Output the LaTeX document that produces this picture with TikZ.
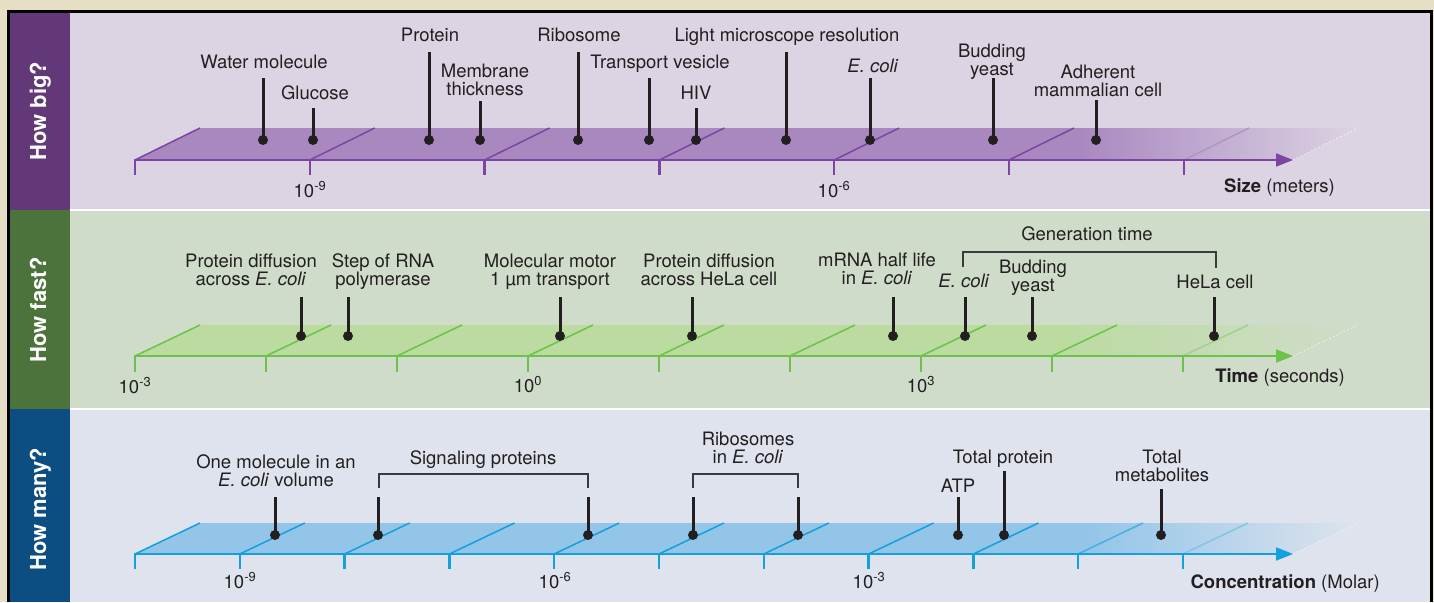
\documentclass[tikz,border=0pt]{standalone}
\usepackage{fontspec}
\setmainfont{TeX Gyre Heros}
\usetikzlibrary{arrows.meta}
\definecolor{outerbg}{HTML}{E6DFC5}
\definecolor{pinc}{HTML}{231F20}
\definecolor{pbg}{HTML}{DCD4E2}
\definecolor{pfill}{HTML}{A988C0}
\definecolor{pline}{HTML}{7B46A1}
\definecolor{pside}{HTML}{633878}
\definecolor{gbg}{HTML}{D0DCCA}
\definecolor{gfill}{HTML}{BBDBA0}
\definecolor{gline}{HTML}{6CC24A}
\definecolor{gside}{HTML}{4B733B}
\definecolor{bbg}{HTML}{DEE3ED}
\definecolor{bfill}{HTML}{93C5E9}
\definecolor{bline}{HTML}{14A0DC}
\definecolor{bside}{HTML}{0D4E82}
\definecolor{brk}{HTML}{3A3A3A}
\newcommand\pinat[4]{%
  \coordinate (#1t) at (#2,#3);
  \node[pindot] (#1) at (#2,#4) {};
  \draw[pinline] (#1t) -- (#1.center);
}
\tikzset{
  lbl/.style={inner sep=0pt, anchor=base, align=center, text=pinc, font=\fontsize{18.5}{17.8}\selectfont},
  axlbl/.style={inner sep=0pt, anchor=base east, text=pinc, font=\fontsize{18.5}{17.8}\selectfont},
  pinline/.style={line width=3pt, draw=pinc},
  pindot/.style={circle, fill=pinc, inner sep=0pt, minimum size=10pt},
  sidelbl/.style={rotate=90, anchor=base, inner sep=0pt, text=white, font=\bfseries\fontsize{22}{22}\selectfont},
  axisline/.style={line width=2pt, -{Triangle[length=17pt,width=13pt]}},
  tickline/.style={line width=2.5pt},
  slantline/.style={line width=1.5pt},
  bracket/.style={line width=1.5pt, draw=brk},
}
\begin{document}
\begin{tikzpicture}[x=1pt,y=-1pt]
\useasboundingbox (0,0) rectangle (1434,602);
% frame and bands
\fill[outerbg] (0,0) rectangle (1434,602);
\fill[black] (7,10) rectangle (1433,602);
\fill[white] (10,13) rectangle (1430,602);
\fill[pbg] (70,13) rectangle (1430,209.3);
\fill[gbg] (70,211) rectangle (1430,408.3);
\fill[bbg] (70,410) rectangle (1430,602);
\fill[pside] (10,13) rectangle (70,209.6);
\fill[gside] (10,209.6) rectangle (70,409.3);
\fill[bside] (10,409.3) rectangle (70,602);
\node[sidelbl] (sbig) at (46,111) {How big?};
\node[sidelbl] (sfast) at (46,310) {How fast?};
\node[sidelbl] (smany) at (46,509) {How many?};

% ===== Top band: size =====
\begin{scope}
  \clip (135,160) -- (200,128) -- (1358,128) -- (1293,160) -- cycle;
  \fill[pfill] (120,120) rectangle (1080,170);
  \shade[left color=pfill, right color=pbg] (1079,120) rectangle (1360,170);
\end{scope}
\foreach \k in {0,...,5} \draw[slantline, pline] ({135+174.8*\k},160) -- ++(65,-32);
\draw[slantline, pline!45!pbg] (1184,160) -- ++(65,-32);
\draw[line width=0.8pt, white, opacity=0.6, dash pattern=on 2pt off 2pt] (1293,160) -- (1358,128);
\coordinate (sA) at (135,160);
\coordinate (eA) at (1293,160);
\draw[axisline, pline] (sA) -- (eA);
\foreach \k in {0,...,6} \draw[tickline, pline] ({135+174.8*\k},159) -- ++(0,16);
\node[lbl] (tA1) at (310,197) {10\textsuperscript{-9}};
\node[lbl] (tA2) at (834,197) {10\textsuperscript{-6}};
\node[axlbl] (axA) at (1335,192) {\textbf{Size} (meters)};

\pinat{water}{263}{78}{140}
\pinat{gluc}{313}{108}{140}
\pinat{prot}{429}{52}{140}
\pinat{memb}{480}{101}{140}
\pinat{ribo}{578}{52}{140}
\pinat{tves}{649}{78}{140}
\pinat{hiv}{696}{108}{140}
\pinat{lmr}{786}{52}{140}
\pinat{ecoliA}{870}{78}{140}
\pinat{yeastA}{993}{78}{140}
\pinat{amc}{1096}{100}{140}
\node[lbl] (Lwater) at (264,68) {Water molecule};
\node[lbl] (Lgluc) at (315,99) {Glucose};
\node[lbl] (Lprot) at (430,42) {Protein};
\node[lbl] (Lmemb) at (485,95) {Membrane\\thickness};
\node[lbl] (Lribo) at (579,42) {Ribosome};
\node[lbl] (Ltves) at (660,69) {Transport vesicle};
\node[lbl] (Lhiv) at (696,99) {HIV};
\node[lbl] (Llmr) at (787,42) {Light microscope resolution};
\node[lbl] (LecoliA) at (873,73) {\textit{E. coli}};
\node[lbl] (LyeastA) at (992,75) {Budding\\yeast};
\node[lbl] (Lamc) at (1098,96) {Adherent\\mammalian cell};

% ===== Middle band: time =====
\begin{scope}
  \clip (135,356) -- (200,325) -- (1358,325) -- (1293,356) -- cycle;
  \fill[gfill] (120,315) rectangle (1060,365);
  \shade[left color=gfill, right color=gbg] (1059,315) rectangle (1360,365);
\end{scope}
\foreach \k in {0,...,7} \draw[slantline, gline] ({135+131*\k},356) -- ++(65,-31);
\draw[slantline, gline!45!gbg] (1183,356) -- ++(65,-31);
\draw[line width=0.8pt, white, opacity=0.6, dash pattern=on 2pt off 2pt] (1293,356) -- (1358,325);
\coordinate (sB) at (135,356);
\coordinate (eB) at (1293,356);
\draw[axisline, gline] (sB) -- (eB);
\foreach \k in {0,...,8} \draw[tickline, gline] ({135+131*\k},355) -- ++(0,17);
\node[lbl] (tB1) at (135,393) {10\textsuperscript{-3}};
\node[lbl] (tB2) at (528,392) {10\textsuperscript{0}};
\node[lbl] (tB3) at (921,392) {10\textsuperscript{3}};
\node[axlbl] (axB) at (1345,382) {\textbf{Time} (seconds)};

\pinat{pdE}{301}{297}{336}
\pinat{rnap}{348}{297}{336}
\pinat{motor}{560}{297}{336}
\pinat{pdH}{692}{297}{336}
\pinat{mrna}{893}{297}{336}
\pinat{ecoliB}{965}{297}{336}
\pinat{yeastB}{1032}{297}{336}
\pinat{hela}{1214}{297}{336}
\node[lbl] (LpdE) at (251,285) {Protein diffusion\\across \textit{E. coli}};
\node[lbl] (Lrnap) at (383,285) {Step of RNA\\polymerase};
\node[lbl] (Lmotor) at (550,285) {Molecular motor\\1 µm transport};
\node[lbl] (LpdH) at (709,285) {Protein diffusion\\across HeLa cell};
\node[lbl] (Lmrna) at (877,284) {mRNA half life\\in \textit{E. coli}};
\node[lbl] (LecoliB) at (964,287) {\textit{E. coli}};
\node[lbl] (LyeastB) at (1033,291) {Budding\\yeast};
\node[lbl] (Lhela) at (1215,288) {HeLa cell};
\coordinate (gt1) at (963,267);
\coordinate (gt2) at (1216,252);
\coordinate (gt3) at (1216,268);
\draw[bracket] (gt1) |- (gt2) -- (gt3);
\node[lbl] (Lgen) at (1087,240) {Generation time};

% ===== Bottom band: concentration =====
\begin{scope}
  \clip (135,554) -- (200,523) -- (1358,523) -- (1293,554) -- cycle;
  \fill[bfill] (120,515) rectangle (1090,565);
  \shade[left color=bfill, right color=bbg] (1089,515) rectangle (1360,565);
\end{scope}
\foreach \k in {0,...,8} \draw[slantline, bline] ({135+104.8*\k},554) -- ++(65,-31);
\draw[slantline, bline!75!bbg] (1078,554) -- ++(65,-31);
\draw[slantline, bline!45!bbg] (1183,554) -- ++(65,-31);
\draw[line width=0.8pt, white, opacity=0.6, dash pattern=on 2pt off 2pt] (1293,554) -- (1358,523);
\coordinate (sC) at (135,554);
\coordinate (eC) at (1293,554);
\draw[axisline, bline] (sC) -- (eC);
\foreach \k in {0,...,10} \draw[tickline, bline] ({135+104.8*\k},553) -- ++(0,16);
\node[lbl] (tC1) at (240,588) {10\textsuperscript{-9}};
\node[lbl] (tC2) at (555,588) {10\textsuperscript{-6}};
\node[lbl] (tC3) at (869,588) {10\textsuperscript{-3}};
\node[axlbl] (axC) at (1380,588) {\textbf{Concentration} (Molar)};

\pinat{onemol}{275}{497}{535}
\pinat{sig1}{378}{497}{535}
\pinat{sig2}{588}{497}{535}
\pinat{rib1}{693}{497}{535}
\pinat{rib2}{798}{497}{535}
\pinat{atp}{958}{497}{535}
\pinat{totp}{1004}{471}{535}
\pinat{totm}{1161}{489}{535}
\node[lbl] (Lonemol) at (276,486) {One molecule in an\\\textit{E. coli} volume};
\coordinate (sb1) at (379,488);
\coordinate (sb2) at (588,474);
\coordinate (sb3) at (588,488);
\draw[bracket] (sb1) |- (sb2) -- (sb3);
\node[lbl] (Lsig) at (483,464) {Signaling proteins};
\coordinate (rb1) at (693,488);
\coordinate (rb2) at (798,474);
\coordinate (rb3) at (798,488);
\draw[bracket] (rb1) |- (rb2) -- (rb3);
\node[lbl] (Lrib) at (748,463) {Ribosomes\\in \textit{E. coli}};
\node[lbl] (Latp) at (958,492) {ATP};
\node[lbl] (Ltotp) at (1003,463) {Total protein};
\node[lbl] (Ltotm) at (1162,481) {Total\\metabolites};
\end{tikzpicture}
\end{document}
